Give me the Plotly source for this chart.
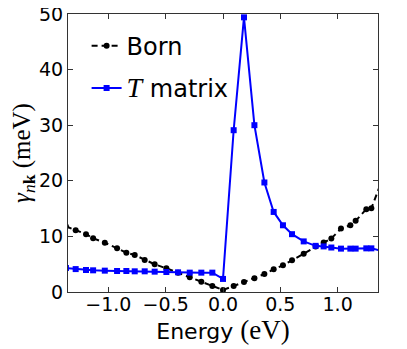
import plotly.graph_objects as go

energy = [-1.37, -1.285, -1.195, -1.133, -1.031, -0.924, -0.843, -0.770, -0.683, -0.596,
          -0.494, -0.392, -0.290, -0.189, -0.093, 0.0, 0.093, 0.183, 0.274, 0.361,
          0.442, 0.523, 0.602, 0.704, 0.808, 0.878, 0.945, 1.029, 1.111, 1.157,
          1.250, 1.294, 1.38]

born = [11.8, 11.1, 10.4, 9.66, 8.87, 7.86, 7.07, 6.65, 5.76, 4.98,
        4.26, 3.47, 2.64, 1.85, 1.08, 0.36, 1.08, 1.82, 2.48, 3.22,
        4.08, 4.80, 5.70, 6.90, 8.20, 8.90, 9.63, 11.4, 12.0, 12.8,
        14.9, 15.06, 19.7]

tmatrix = [4.3, 4.12, 3.96, 3.9, 3.84, 3.78, 3.78, 3.72, 3.72, 3.66,
           3.6, 3.54, 3.48, 3.48, 3.48, 2.35, 29.1, 49.4, 30.0, 19.7,
           14.4, 12.0, 10.4, 9.1, 8.3, 8.2, 8.0, 7.8, 7.8, 7.8,
           7.85, 7.85, 7.4]

x_ticks = [-1.0, -0.5, 0.0, 0.5, 1.0]
x_ticklabels = ["\u22121.0", "\u22120.5", "0.0", "0.5", "1.0"]
y_ticks = [0, 10, 20, 30, 40, 50]

fig = go.Figure()
fig.add_trace(go.Scatter(
    x=energy, y=born, mode="lines+markers", name="Born",
    legendgroup="a",
    line=dict(color="black", width=2, dash="6px,4px"),
    marker=dict(symbol="circle", size=6, color="black"),
))
fig.add_trace(go.Scatter(
    x=energy, y=tmatrix, mode="lines+markers",
    name="<span style='font-family:Liberation Serif;font-style:italic;font-size:28px'>T</span> matrix",
    legendgroup="b",
    line=dict(color="#0000ff", width=2),
    marker=dict(symbol="square", size=6, color="#0000ff"),
))

axis_common = dict(
    showline=True, linecolor="#333333", linewidth=1.2, mirror="allticks",
    ticks="inside", ticklen=5, tickcolor="#333333", showgrid=False, zeroline=False,
    automargin=False, ticklabeloverflow="allow",
    tickfont=dict(family="DejaVu Sans", size=19, color="black"),
)

# page body has an 8px default margin; size and margins compensate for it
fig.update_layout(
    width=399, height=341,
    margin=dict(l=60, r=29, t=6, b=57),
    paper_bgcolor="white", plot_bgcolor="white",
    showlegend=True,
    legend=dict(x=0.06, y=0.965, xanchor="left", yanchor="top",
                bgcolor="rgba(0,0,0,0)", traceorder="grouped", tracegroupgap=8,
                font=dict(family="DejaVu Sans", size=24, color="black")),
    xaxis=dict(range=[-1.352, 1.352], tickvals=x_ticks, ticktext=x_ticklabels,
               ticklabelstandoff=-5,
               title=dict(text="Energy <span style='font-family:Liberation Serif;font-size:27px'>(eV)</span>",
                          font=dict(family="DejaVu Sans", size=22, color="black"), standoff=2),
               **axis_common),
    yaxis=dict(range=[0, 50], tickvals=y_ticks,
               title=dict(text="<i>\u03b3</i><sub><i>n</i><b>k</b></sub> (meV)",
                          font=dict(family="Liberation Serif", size=25, color="black"), standoff=4),
               **axis_common),
)

fig.write_html("out.html")
